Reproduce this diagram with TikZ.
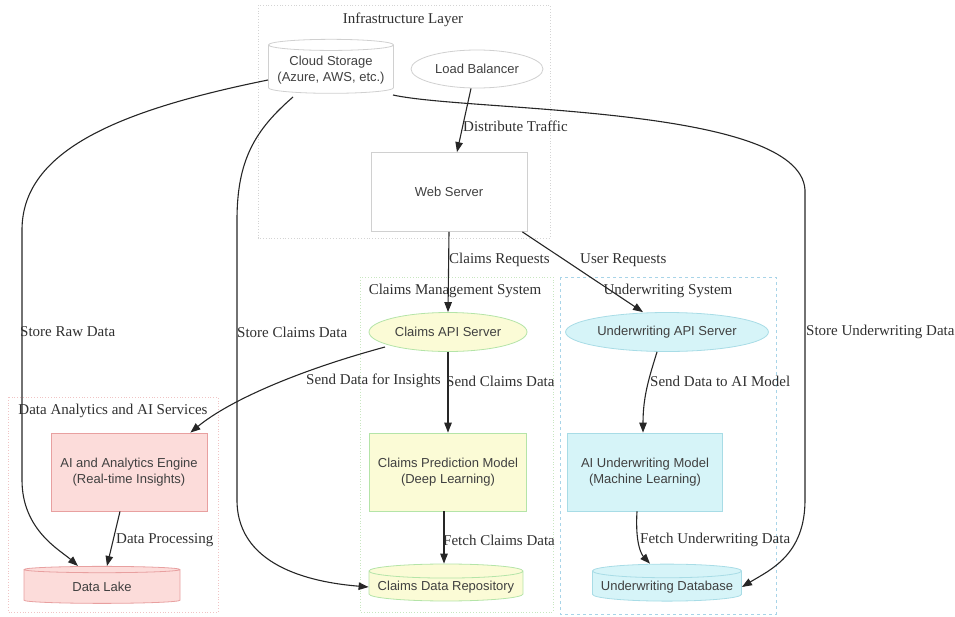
\documentclass[tikz,border=0pt]{standalone}
\usepackage{fontspec}
\setmainfont{Liberation Serif}
\newfontfamily\nodefont{Liberation Sans}
\usetikzlibrary{shapes.geometric,arrows.meta,calc}
\definecolor{grayline}{HTML}{D0D0D0}
\definecolor{grayfill}{HTML}{FFFFFF}
\definecolor{redfill}{HTML}{FCDCDA}
\definecolor{redline}{HTML}{E8A0A0}
\definecolor{yelfill}{HTML}{FBFBD6}
\definecolor{yelline}{HTML}{B4E4A8}
\definecolor{bluefill}{HTML}{D6F4F8}
\definecolor{blueline}{HTML}{A8DCE6}
\definecolor{txtgray}{HTML}{404040}
\definecolor{lblcol}{HTML}{303030}
\definecolor{infraline}{HTML}{D4D4D4}
\definecolor{claimline}{HTML}{C8E6C0}
\definecolor{uwline}{HTML}{A8D4E8}
\definecolor{anaeline}{HTML}{F0C4C4}
\begin{document}
\begin{tikzpicture}[x=1pt,y=-1pt,
  nd/.style={font=\nodefont\fontsize{13}{15.5}\selectfont, text=txtgray, align=center, line width=0.8pt, inner sep=2pt},
  rectnode/.style={nd, rectangle, draw=#1line, fill=#1fill, minimum width=156pt, minimum height=78pt},
  ellnode/.style={nd, ellipse, draw=#1line, fill=#1fill, minimum height=39pt},
  cylnode/.style={nd, cylinder, shape border rotate=90, aspect=0.1, draw=#1line, fill=#1fill, minimum height=37pt},
  edge/.style={line width=1.1pt, draw=black!85, -{Triangle[length=10pt,width=7.5pt]}},
  lbl/.style={font=\fontsize{15}{17}\selectfont, text=lblcol, anchor=west, inner sep=0pt},
  ctitle/.style={font=\fontsize{15}{17}\selectfont, text=lblcol, inner sep=0pt},
  cluster/.style={line width=0.8pt, draw=#1}
]
\useasboundingbox (0,0) rectangle (955,616);
% clusters
\draw[cluster=infraline, dotted] (258,5) rectangle (550,238);
\draw[cluster=claimline, dotted] (360,277) rectangle (553,612);
\draw[cluster=uwline, dashed] (560,277) rectangle (776,614);
\draw[cluster=anaeline, dotted] (8,397) rectangle (218,612);
\node[ctitle] (t1) at (403,20) {Infrastructure Layer};
\node[ctitle] (t2) at (455,291) {Claims Management System};
\node[ctitle] (t3) at (668,291) {Underwriting System};
\node[ctitle] (t4) at (113,411) {Data Analytics and AI Services};
% nodes
\node[cylnode=gray, minimum width=125pt, minimum height=54pt] (cloud) at (331,70) {Cloud Storage\\(Azure, AWS, etc.)};
\node[ellnode=gray, minimum width=132pt, minimum height=38pt] (lb) at (477,69) {Load Balancer};
\node[rectnode=gray, minimum height=79pt] (web) at (449,192) {Web Server};
\node[ellnode=yel, minimum width=158pt] (capi) at (448,332) {Claims API Server};
\node[ellnode=blue, minimum width=200pt] (uapi) at (667,332) {Underwriting API Server};
\node[rectnode=red] (ai) at (129,472) {AI and Analytics Engine\\(Real-time Insights)};
\node[cylnode=red, minimum width=156pt] (lake) at (102,587) {Data Lake};
\node[rectnode=yel, minimum width=157pt] (cpm) at (448,472) {Claims Prediction Model\\(Deep Learning)};
\node[cylnode=yel, minimum width=154pt] (repo) at (446,587) {Claims Data Repository};
\node[rectnode=blue, minimum width=155pt] (aum) at (645,472) {AI Underwriting Model\\(Machine Learning)};
\node[cylnode=blue, minimum width=149pt] (udb) at (667,587) {Underwriting Database};
% edges
\draw[edge] ($(cloud.center)+(-63,10)$) .. controls (120,110) and (22,150) .. (22,230) -- (22,480) .. controls (22,530) and (60,550) .. ($(lake.north)+(-24,0)$);
\draw[edge] ($(cloud.center)+(-38,27)$) .. controls (255,130) and (237,160) .. (237,220) -- (237,500) .. controls (237,570) and (320,583) .. (repo.west);
\draw[edge] ($(cloud.center)+(62,25)$) .. controls (470,112) and (800,105) .. (805,190) -- (805,500) .. controls (805,555) and (770,570) .. (udb.east);
\draw[edge] ($(lb.south)+(-6,0)$) -- ($(web.north)+(8,0)$);
\draw[edge] (web.south) -- (capi.north);
\draw[edge] ($(web.south east)+(-5,0)$) -- ($(uapi.north)+(-24,0)$);
\draw[edge] ($(capi.center)+(-63,15)$) .. controls (300,370) and (230,400) .. ($(ai.north east)+(-17,0)$);
\draw[edge] (capi.south) -- (cpm.north);
\draw[edge] ($(uapi.south)+(-10,0)$) .. controls (650,375) and (643,395) .. ($(aum.north)+(-2,0)$);
\draw[edge] ($(ai.south)+(-9,0)$) -- ($(lake.north)+(5,0)$);
\draw[edge] ($(cpm.south)+(-4,0)$) -- ($(repo.north)+(-2,0)$);
\draw[edge] ($(aum.south)+(-8,0)$) .. controls (635,545) and (642,555) .. ($(udb.north)+(-17,0)$);
% labels
\node[lbl] (l1) at (463,126) {Distribute Traffic};
\node[lbl] (l2) at (449,260) {Claims Requests};
\node[lbl] (l3) at (580,260) {User Requests};
\node[lbl] (l4) at (20,332) {Store Raw Data};
\node[lbl] (l5) at (237,332) {Store Claims Data};
\node[lbl] (l6) at (806,332) {Store Underwriting Data};
\node[lbl] (l7) at (306,381) {Send Data for Insights};
\node[lbl] (l8) at (446,381) {Send Claims Data};
\node[lbl] (l9) at (650,381) {Send Data to AI Model};
\node[lbl] (l10) at (116,540) {Data Processing};
\node[lbl] (l11) at (443,540) {Fetch Claims Data};
\node[lbl] (l12) at (640,540) {Fetch Underwriting Data};
\end{tikzpicture}
\end{document}
